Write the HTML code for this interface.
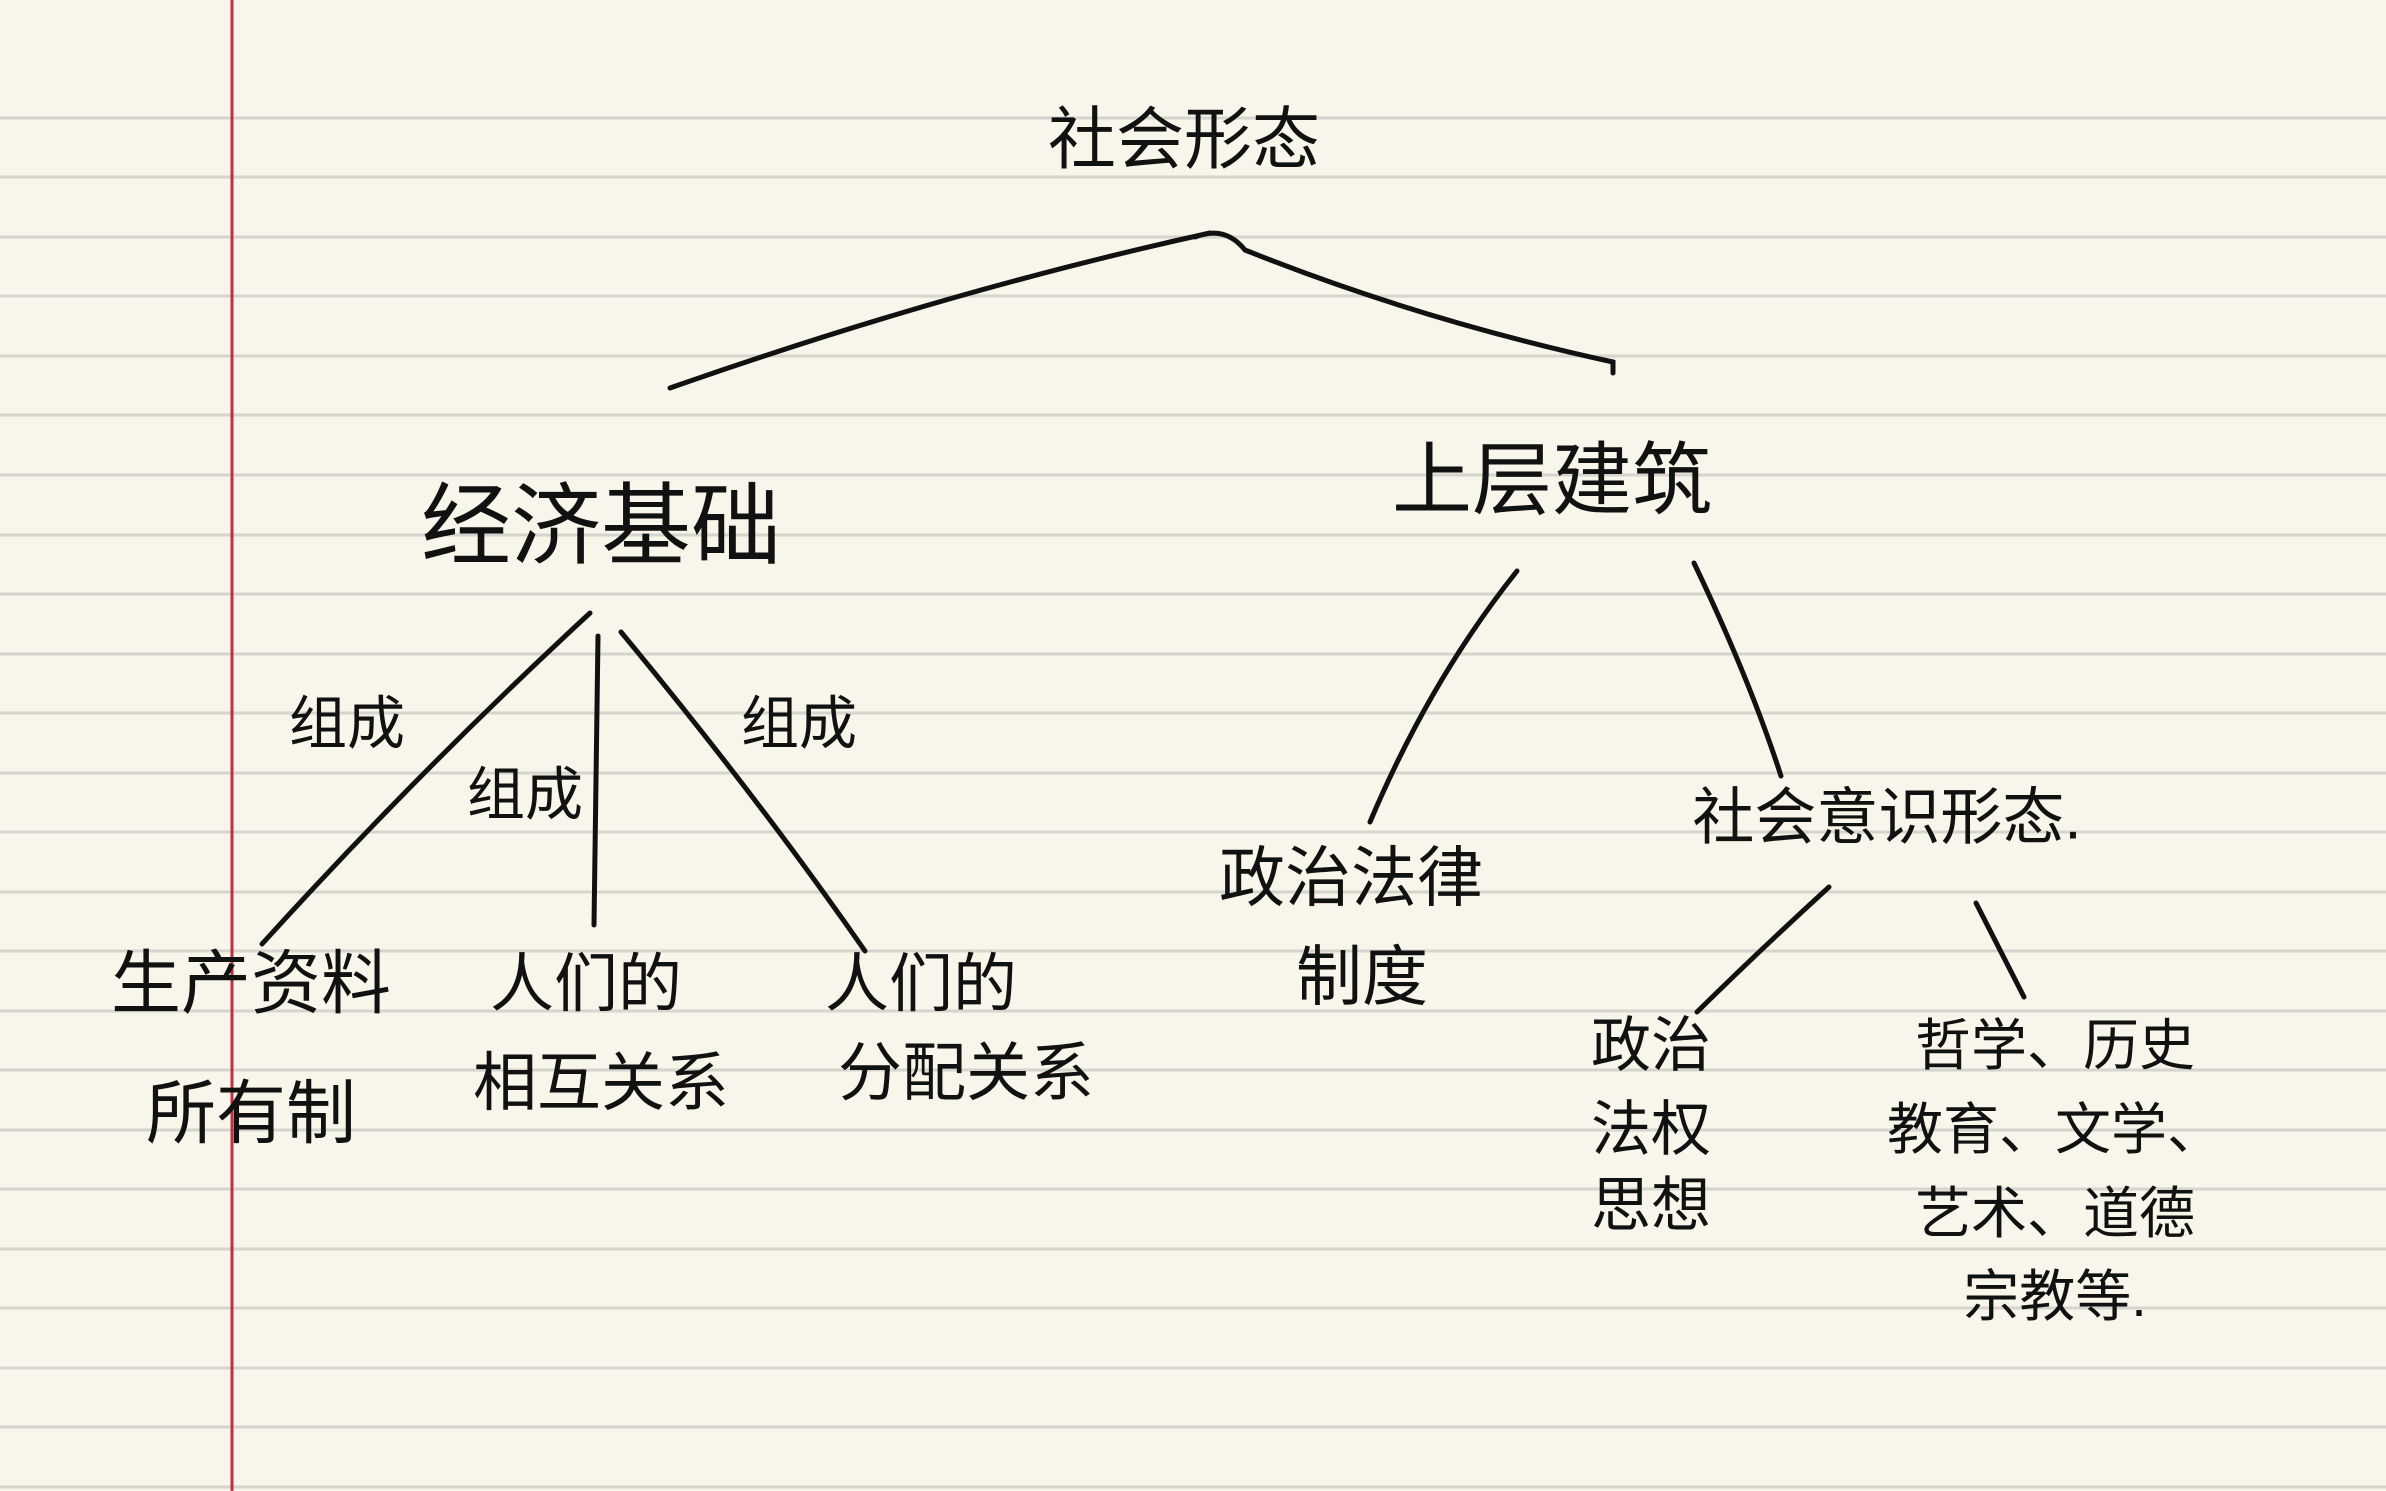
<!DOCTYPE html>
<html><head><meta charset="utf-8"><style>
html,body{margin:0;padding:0;background:#f8f5ea;}
svg{display:block}
text{font-family:"Liberation Sans","Noto Sans CJK SC",sans-serif;fill:#111;text-anchor:middle;dominant-baseline:middle;}
</style></head><body>
<svg width="2386" height="1491" viewBox="0 0 2386 1491" xmlns="http://www.w3.org/2000/svg">
<rect width="2386" height="1491" fill="#f8f5ea"/>
<g stroke="#d6d4cf" stroke-width="3">
<line x1="0" y1="118" x2="2386" y2="118"/><line x1="0" y1="177" x2="2386" y2="177"/><line x1="0" y1="237" x2="2386" y2="237"/><line x1="0" y1="296" x2="2386" y2="296"/><line x1="0" y1="356" x2="2386" y2="356"/><line x1="0" y1="415" x2="2386" y2="415"/><line x1="0" y1="475" x2="2386" y2="475"/><line x1="0" y1="535" x2="2386" y2="535"/><line x1="0" y1="594" x2="2386" y2="594"/><line x1="0" y1="654" x2="2386" y2="654"/><line x1="0" y1="713" x2="2386" y2="713"/><line x1="0" y1="773" x2="2386" y2="773"/><line x1="0" y1="832" x2="2386" y2="832"/><line x1="0" y1="892" x2="2386" y2="892"/><line x1="0" y1="951" x2="2386" y2="951"/><line x1="0" y1="1011" x2="2386" y2="1011"/><line x1="0" y1="1070" x2="2386" y2="1070"/><line x1="0" y1="1130" x2="2386" y2="1130"/><line x1="0" y1="1189" x2="2386" y2="1189"/><line x1="0" y1="1249" x2="2386" y2="1249"/><line x1="0" y1="1308" x2="2386" y2="1308"/><line x1="0" y1="1368" x2="2386" y2="1368"/><line x1="0" y1="1427" x2="2386" y2="1427"/><line x1="0" y1="1487" x2="2386" y2="1487"/>
</g>
<line x1="232" y1="0" x2="232" y2="1491" stroke="#c0303f" stroke-width="3"/>
<g stroke="#111" stroke-width="5" fill="none" stroke-linecap="round">
<path d="M670 388 Q950 290 1210 233 M1195 237 Q1225 225 1245 250 Q1420 320 1613 362 L1613 373"/>
<path d="M590 613 Q420 770 262 944"/>
<path d="M598 636 L594 925"/>
<path d="M621 632 Q760 800 865 951"/>
<path d="M1517 571 Q1430 680 1370 822"/>
<path d="M1694 563 Q1750 680 1781 776"/>
<path d="M1829 887 Q1760 950 1697 1012"/>
<path d="M1976 903 L2024 997"/>
</g>
<text x="1184" y="145" font-size="68">社会形态</text>
<text x="601" y="533" font-size="90">经济基础</text>
<text x="1552" y="487" font-size="80">上层建筑</text>
<text x="347" y="728" font-size="58">组成</text>
<text x="525" y="799" font-size="58">组成</text>
<text x="799" y="728" font-size="58">组成</text>
<text x="251" y="989" font-size="70">生产资料</text>
<text x="251" y="1119" font-size="70">所有制</text>
<text x="586" y="989" font-size="64">人们的</text>
<text x="601" y="1088" font-size="64">相互关系</text>
<text x="921" y="989" font-size="64">人们的</text>
<text x="966" y="1078" font-size="64">分配关系</text>
<text x="1351" y="883" font-size="66">政治法律</text>
<text x="1362" y="982" font-size="66">制度</text>
<text x="1887" y="822" font-size="62">社会意识形态.</text>
<text x="1651" y="1050" font-size="60">政治</text>
<text x="1651" y="1134" font-size="60">法权</text>
<text x="1651" y="1210" font-size="60">思想</text>
<text x="2055" y="1050" font-size="56">哲学、历史</text>
<text x="2055" y="1134" font-size="56">教育、文学、</text>
<text x="2055" y="1218" font-size="56">艺术、道德</text>
<text x="2055" y="1301" font-size="56">宗教等.</text>
</svg>
</body></html>
